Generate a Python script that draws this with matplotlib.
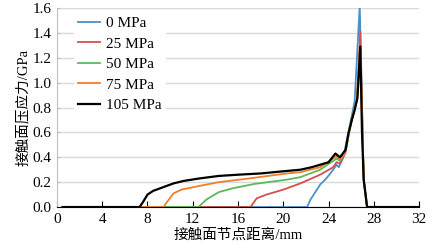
import matplotlib
matplotlib.use("Agg")
import matplotlib.pyplot as plt

plt.rcParams['font.family'] = ['Liberation Serif', 'Noto Sans CJK SC']
plt.rcParams['axes.unicode_minus'] = False

labels = ['0 MPa', '25 MPa', '50 MPa', '75 MPa', '105 MPa']
colors = ['#4d8fca', '#d2504d', '#5cb85a', '#f07e2c', '#000000']

x_0 = [0.5, 22.1, 22.4, 23.25, 23.8, 24.4, 24.7, 24.9, 25.3, 25.9, 26.3, 26.75, 27.1, 27.4, 32]
y_0 = [0, 0, 0.06, 0.18, 0.23, 0.30, 0.34, 0.32, 0.40, 0.67, 0.85, 1.62, 0.22, 0, 0]

x_25 = [0.5, 17.1, 17.65, 18.5, 20.0, 21.5, 23.25, 24.4, 24.7, 25.0, 25.5, 25.8, 26.1, 26.5, 26.8, 27.1, 27.4, 32]
y_25 = [0, 0, 0.07, 0.10, 0.14, 0.19, 0.26, 0.32, 0.36, 0.35, 0.44, 0.6, 0.72, 0.86, 1.41, 0.22, 0, 0]

x_50 = [0.5, 12.5, 13.2, 14.3, 15.5, 17.4, 20.3, 21.5, 23.25, 24.4, 24.7, 25.0, 25.5, 25.8, 26.1, 26.5, 26.8, 27.1, 27.4, 32]
y_50 = [0, 0, 0.06, 0.12, 0.15, 0.185, 0.22, 0.24, 0.30, 0.37, 0.39, 0.37, 0.45, 0.6, 0.72, 0.86, 1.28, 0.22, 0, 0]

x_75 = [0.5, 9.4, 9.8, 10.3, 11.0, 12.05, 14.3, 17, 20.3, 21.5, 23.25, 24.4, 24.7, 25.0, 25.5, 25.8, 26.1, 26.5, 26.8, 27.1, 27.4, 32]
y_75 = [0, 0, 0.05, 0.11, 0.14, 0.16, 0.20, 0.23, 0.27, 0.28, 0.32, 0.39, 0.41, 0.38, 0.45, 0.6, 0.72, 0.87, 1.28, 0.22, 0, 0]

x_105 = [0.5, 7.3, 7.6, 8.0, 8.5, 9.4, 10.3, 11.2, 12.6, 14.3, 16, 18, 20.3, 21.5, 22.5, 23.25, 24.0, 24.6, 25.0,
         25.5, 25.75, 26.05, 26.3, 26.55, 26.8, 26.95, 27.1, 27.4, 32]
y_105 = [0, 0, 0.04, 0.10, 0.13, 0.16, 0.19, 0.21, 0.23, 0.25, 0.26, 0.27, 0.29, 0.30, 0.32, 0.34, 0.36, 0.43, 0.40,
         0.46, 0.59, 0.70, 0.78, 0.88, 1.29, 0.6, 0.22, 0, 0]

xs = [x_0, x_25, x_50, x_75, x_105]
ys = [y_0, y_25, y_50, y_75, y_105]

fig = plt.figure(figsize=(4.38, 2.43), dpi=100)
ax = fig.add_axes([0.130, 0.148, 0.827, 0.819])

for x, y, c, lab in zip(xs, ys, colors, labels):
    lw = 1.6 if c == '#000000' else 1.3
    ax.plot(x, y, color=c, lw=lw, label=lab)

ax.set_xlim(0, 32)
ax.set_ylim(0, 1.6)
ax.set_xticks(range(0, 33, 4))
ax.set_yticks([i * 0.2 for i in range(9)])
ax.set_yticklabels(['%.1f' % (i * 0.2) for i in range(9)])
ax.grid(axis='y', color='#d9d9d9', lw=1)
ax.set_axisbelow(True)

for s in ['top', 'right']:
    ax.spines[s].set_visible(False)
ax.spines['left'].set_color('#bfbfbf')
ax.spines['bottom'].set_color('black')
ax.tick_params(axis='x', direction='in', length=4, color='black', labelsize=11, pad=4)
ax.tick_params(axis='y', direction='in', length=2, color='#bfbfbf', labelsize=11, pad=4)

ax.set_xlabel('接触面节点距离/mm', fontsize=10.5, labelpad=2)
ax.set_ylabel('接触面压应力/GPa', fontsize=10.5, labelpad=2)

leg = ax.legend(loc='upper left', bbox_to_anchor=(0.025, 1.02), frameon=True, fontsize=11,
                handlelength=1.45, handletextpad=0.35, labelspacing=0.45, borderpad=0.3)
leg.get_frame().set_edgecolor('none')
leg.get_frame().set_facecolor('white')
leg.get_frame().set_alpha(1)

fig.savefig('out.png', dpi=100)
